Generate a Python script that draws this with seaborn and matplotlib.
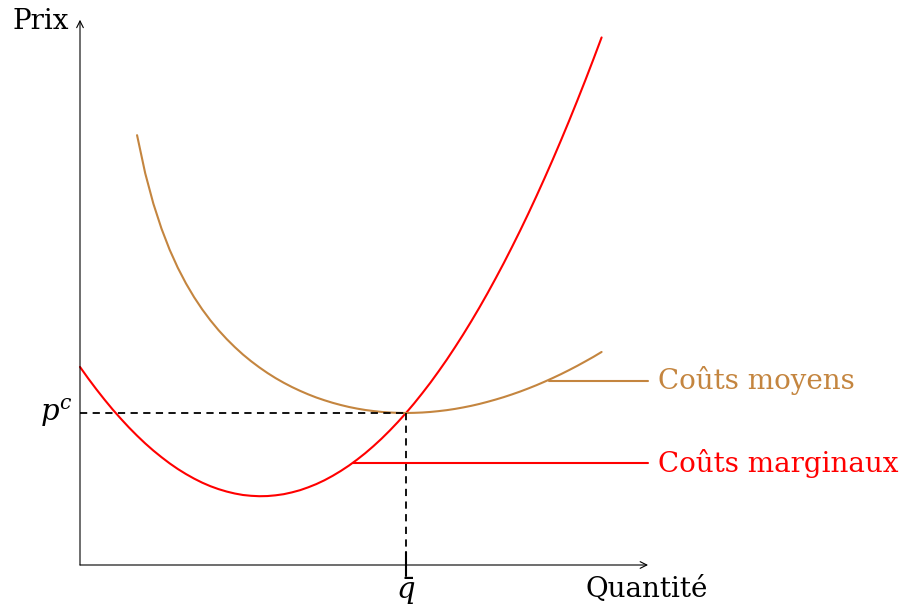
import matplotlib
matplotlib.use("Agg")
import matplotlib.pyplot as plt
import seaborn as sns

# Marginal cost curve (quantity, price)
mc_q = [0.0, 0.1, 0.2, 0.3, 0.4, 0.5, 0.6, 0.7, 0.8, 0.9,
        1.0, 1.1, 1.2, 1.3, 1.4, 1.5, 1.6, 1.7, 1.8, 1.9,
        2.0, 2.1, 2.2, 2.3, 2.4, 2.5, 2.6, 2.7, 2.8, 2.9,
        3.0, 3.1, 3.2, 3.3, 3.4, 3.5, 3.6, 3.7, 3.8, 3.9,
        4.0, 4.1, 4.2, 4.3, 4.4, 4.5, 4.6, 4.7, 4.8, 4.9,
        5.0, 5.1, 5.2, 5.3, 5.4, 5.5, 5.6, 5.7, 5.8, 5.9,
        6.0, 6.1, 6.2, 6.3, 6.4]
mc_price = [2.430, 2.290, 2.157, 2.030, 1.909, 1.796, 1.688, 1.587, 1.492, 1.404,
            1.323, 1.247, 1.178, 1.116, 1.060, 1.010, 0.967, 0.931, 0.901, 0.877,
            0.859, 0.849, 0.844, 0.846, 0.855, 0.869, 0.891, 0.918, 0.953, 0.993,
            1.040, 1.094, 1.154, 1.220, 1.293, 1.372, 1.458, 1.550, 1.649, 1.754,
            1.865, 1.983, 2.108, 2.238, 2.376, 2.519, 2.670, 2.826, 2.989, 3.158,
            3.334, 3.517, 3.705, 3.901, 4.102, 4.310, 4.525, 4.746, 4.973, 5.207,
            5.447, 5.694, 5.947, 6.207, 6.473]

# Average cost curve
ac_q = [0.7, 0.8, 0.9,
        1.0, 1.1, 1.2, 1.3, 1.4, 1.5, 1.6, 1.7, 1.8, 1.9,
        2.0, 2.1, 2.2, 2.3, 2.4, 2.5, 2.6, 2.7, 2.8, 2.9,
        3.0, 3.1, 3.2, 3.3, 3.4, 3.5, 3.6, 3.7, 3.8, 3.9,
        4.0, 4.1, 4.2, 4.3, 4.4, 4.5, 4.6, 4.7, 4.8, 4.9,
        5.0, 5.1, 5.2, 5.3, 5.4, 5.5, 5.6, 5.7, 5.8, 5.9,
        6.0, 6.1, 6.2, 6.3, 6.4]
ac_price = [5.274, 4.807, 4.434,
            4.127, 3.868, 3.647, 3.455, 3.286, 3.136, 3.002, 2.881, 2.772, 2.673,
            2.582, 2.500, 2.425, 2.356, 2.293, 2.236, 2.184, 2.137, 2.094, 2.055,
            2.021, 1.990, 1.963, 1.939, 1.919, 1.902, 1.889, 1.878, 1.871, 1.867,
            1.865, 1.867, 1.871, 1.878, 1.888, 1.900, 1.915, 1.933, 1.953, 1.976,
            2.002, 2.030, 2.060, 2.093, 2.128, 2.166, 2.206, 2.249, 2.294, 2.341,
            2.391, 2.443, 2.498, 2.554, 2.614]

q_bar = 4.0
p_c = 1.865
labels = ["Coûts moyens", "Coûts marginaux"]
label_y = [2.26, 1.25]
label_start = [5.75, 3.35]

RED = "#ff0000"
BROWN = "#c4853f"

sns.set_theme(style="white")
plt.rcParams["font.family"] = ["DejaVu Serif"]
plt.rcParams["mathtext.fontset"] = "dejavuserif"
plt.rcParams["text.color"] = "black"

fig = plt.figure(figsize=(9.06, 6.06), dpi=100)
ax = fig.add_axes([0, 0, 1, 1])
ax.set_xlim(-80 / 81.5, 826 / 81.5)
ax.set_ylim(-41 / 81.5, 565 / 81.5)
ax.axis("off")

# axes with arrows
ax.annotate("", xy=(6.97, 0), xytext=(0, 0),
            arrowprops=dict(arrowstyle="->", color="black", lw=0.8, shrinkA=0, shrinkB=0))
ax.annotate("", xy=(0, 6.69), xytext=(0, 0),
            arrowprops=dict(arrowstyle="->", color="black", lw=0.8, shrinkA=0, shrinkB=0))

# curves
sns.lineplot(x=mc_q, y=mc_price, ax=ax, color=RED, lw=1.5)
sns.lineplot(x=ac_q, y=ac_price, ax=ax, color=BROWN, lw=1.5)

# dashed guides
ax.plot([0, q_bar], [p_c, p_c], color="black", ls=(0, (4, 3)), lw=1.3)
ax.plot([q_bar, q_bar], [p_c, 0.2], color="black", ls=(0, (4, 3)), lw=1.3)
ax.plot([q_bar, q_bar], [0.16, -0.14], color="black", lw=1.5)

# curve labels
for txt, y, x0, col in zip(labels, label_y, label_start, [BROWN, RED]):
    ax.plot([x0, 6.97], [y, y], color=col, lw=1.5)
    ax.text(7.09, y, txt, color=col, fontsize=20, va="center", ha="left")

ax.text(-0.14, 6.67, "Prix", fontsize=20, ha="right", va="center")
ax.text(6.2, -0.3, "Quantité", fontsize=20, ha="left", va="center")
ax.text(-0.08, p_c, "$p^c$", fontsize=21, ha="right", va="center")
ax.text(q_bar, -0.32, r"$\bar{q}$", fontsize=21, ha="center", va="center")

fig.savefig("out.png", dpi=100)
